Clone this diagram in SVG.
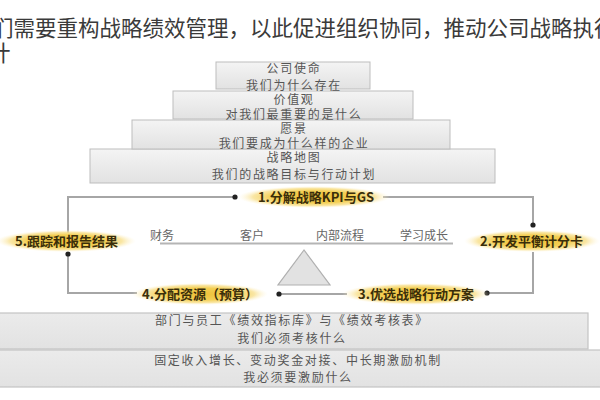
<svg xmlns="http://www.w3.org/2000/svg" width="600" height="400" viewBox="0 0 600 400">
<style>
.title{font-family:"Noto Sans CJK SC","Noto Sans",sans-serif;font-size:21.5px;fill:#3a3a3a}
.box{fill:url(#boxg);stroke:#bdbdbd;stroke-width:1}
.bbox{fill:url(#bboxg);stroke:#c4c4c4;stroke-width:1.2}
.bt{font-family:"Noto Sans CJK SC","Noto Sans",sans-serif;font-size:12px;letter-spacing:1.7px;fill:#555;text-anchor:middle}
.ax{font-family:"Noto Sans CJK SC","Noto Sans",sans-serif;font-size:12px;fill:#666}
.pill{fill:url(#pillg)}
.pt{font-family:"Noto Sans CJK SC","Noto Sans",sans-serif;font-size:13px;font-weight:bold;fill:#3a2e0a;text-anchor:middle}
.conn{fill:none;stroke:#a6a6a6;stroke-width:2;marker-end:url(#dot)}
</style>
<defs>
<linearGradient id="boxg" x1="0" y1="0" x2="0" y2="1">
<stop offset="0" stop-color="#f4f4f4"/>
<stop offset="1" stop-color="#e2e2e2"/>
</linearGradient>
<linearGradient id="bboxg" x1="0" y1="0" x2="0" y2="1">
<stop offset="0" stop-color="#ebebeb"/>
<stop offset="1" stop-color="#e2e2e2"/>
</linearGradient>
<radialGradient id="pillg" cx="0.5" cy="0.5" r="0.5">
<stop offset="0" stop-color="#eec13a"/>
<stop offset="0.55" stop-color="#f3cf55"/>
<stop offset="0.8" stop-color="#f8e08e" stop-opacity="0.8"/>
<stop offset="1" stop-color="#fff6d8" stop-opacity="0"/>
</radialGradient>
<marker id="dot" viewBox="0 0 6 6" refX="3" refY="3" markerWidth="3" markerHeight="3" markerUnits="strokeWidth">
<circle cx="3" cy="3" r="2.6" fill="#222"/>
</marker>
</defs>
<rect width="600" height="400" fill="#fff"/>

<g id="title">
<text class="title" x="-8" y="36">们需要重构战略绩效管理，以此促进组织协同，推动公司战略执行</text>
<text class="title" x="-11" y="61">计</text>
</g>

<g id="pyr4"><rect class="box" x="90" y="149" width="405" height="34"/>
<text class="bt" x="294" y="162">战略地图</text><text class="bt" x="294" y="179">我们的战略目标与行动计划</text></g>
<g id="pyr3"><rect class="box" x="132" y="120" width="318" height="29"/>
<text class="bt" x="294" y="133">愿景</text><text class="bt" x="294" y="147.5">我们要成为什么样的企业</text></g>
<g id="pyr2"><rect class="box" x="173" y="91" width="240" height="28"/>
<text class="bt" x="294" y="104">价值观</text><text class="bt" x="294" y="118.5">对我们最重要的是什么</text></g>
<g id="pyr1"><rect class="box" x="216" y="62" width="154" height="27"/>
<text class="bt" x="294" y="73">公司使命</text><text class="bt" x="294" y="89.5">我们为什么存在</text></g>

<g id="connectors">
<path class="conn" d="M383,197 H533 V225"/>
<path class="conn" d="M533,252 V293 H487"/>
<path class="conn" d="M347,294 H279"/>
<path class="conn" d="M137,293 H68 V254"/>
<path class="conn" d="M68,233 V197 H235"/>
</g>

<g id="scale">
<text class="ax" x="150" y="240">财务</text>
<text class="ax" x="240" y="240">客户</text>
<text class="ax" x="316" y="240">内部流程</text>
<text class="ax" x="400" y="240">学习成长</text>
<line x1="160" y1="243.5" x2="453" y2="243.5" stroke="#b5b5b5" stroke-width="2"/>
<polygon points="304,250 278,285 330,285" fill="#e2e2e2" stroke="#b0b0b0" stroke-width="1.2"/>
</g>

<g id="step1"><ellipse class="pill" cx="314" cy="197" rx="76" ry="11"/>
<text class="pt" x="316" y="201.5">1.分解战略KPI与GS</text></g>
<g id="step2"><ellipse class="pill" cx="532" cy="241" rx="68" ry="11"/>
<text class="pt" x="531.5" y="245.5">2.开发平衡计分卡</text></g>
<g id="step3"><ellipse class="pill" cx="416" cy="294" rx="74" ry="11"/>
<text class="pt" x="416" y="298.5">3.优选战略行动方案</text></g>
<g id="step4"><ellipse class="pill" cx="200" cy="294" rx="68" ry="11"/>
<text class="pt" x="200" y="298.5">4.分配资源（预算）</text></g>
<g id="step5"><ellipse class="pill" cx="66" cy="241" rx="70" ry="11"/>
<text class="pt" x="66.5" y="245.5">5.跟踪和报告结果</text></g>

<g id="kpi"><rect class="bbox" x="-2" y="313" width="590" height="36"/>
<text class="bt" x="292" y="325">部门与员工《绩效指标库》与《绩效考核表》</text>
<text class="bt" x="292" y="343">我们必须考核什么</text></g>
<g id="incentive"><rect class="bbox" x="-2" y="350" width="604" height="37"/>
<text class="bt" x="298" y="365">固定收入增长、变动奖金对接、中长期激励机制</text>
<text class="bt" x="298" y="382">我必须要激励什么</text></g>
</svg>
